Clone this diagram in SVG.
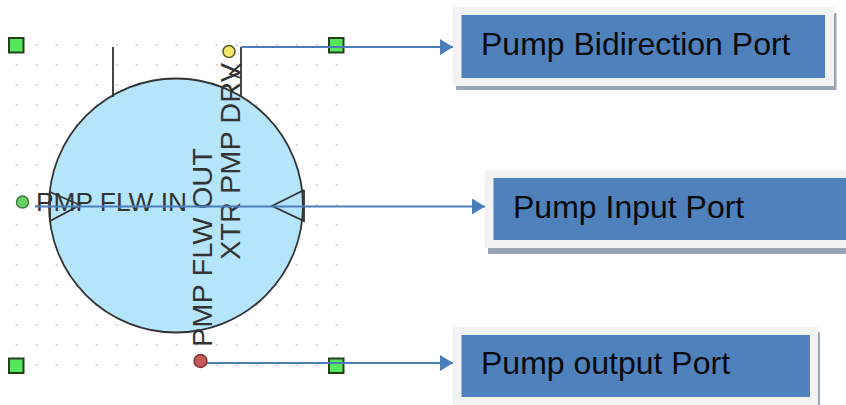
<svg xmlns="http://www.w3.org/2000/svg" width="846" height="405" viewBox="0 0 846 405">
  <style>
    .sq { fill: #55e85a; stroke: #24401f; stroke-width: 2; }
    .ln { fill: none; stroke: #333; stroke-width: 1.8; }
    .sym { font-family: "Liberation Sans", Arial, sans-serif; fill: #333; }
    .lbl { font-family: "Liberation Sans", Arial, sans-serif; font-size: 32px; fill: #0a0a0a; }
    .outer { fill: #f2f2f2; }
    .inner { fill: #4f81bd; }
    .shadow { fill: #98a4b4; }
    .conn { fill: none; stroke: #4a7ebb; stroke-width: 2; marker-end: url(#arrow); }
  </style>
  <defs>
    <pattern id="dots" x="6.7" y="35" width="20" height="20" patternUnits="userSpaceOnUse">
      <rect x="9" y="9" width="2" height="2" fill="#d4d4d4"/>
    </pattern>
    <marker id="arrow" markerUnits="userSpaceOnUse" markerWidth="13" markerHeight="16" refX="13" refY="8" orient="auto">
      <path d="M0,0 L13,8 L0,16 Z" fill="#4a7ebb"/>
    </marker>
  </defs>
  <rect width="846" height="405" fill="#fff"/>
  <g id="pump">
    <rect x="8" y="37" width="337" height="340" fill="url(#dots)"/>
    <circle cx="176" cy="205.5" r="127" fill="#b5e5fb" stroke="#333" stroke-width="1.8"/>
    <path class="ln" d="M113,47 V97 M241,47 V97"/>
    <path class="ln" d="M50,192 V221 L80,205 L50,192 M304,190 V221 L272,206 L304,190"/>
    <path class="ln" d="M241,64 L230,74 L241,78"/>
    <text class="sym" x="36" y="211" font-size="26" textLength="151" lengthAdjust="spacingAndGlyphs">PMP FLW IN</text>
    <text class="sym" transform="translate(212,347) rotate(-90)" font-size="28" textLength="199" lengthAdjust="spacingAndGlyphs">PMP FLW OUT</text>
    <text class="sym" transform="translate(240,260) rotate(-90)" font-size="28" textLength="197" lengthAdjust="spacingAndGlyphs">XTR PMP DRV</text>
  </g>
  <g id="handle-tl"><rect class="sq" x="9" y="38" width="14.5" height="14.5"/></g>
  <g id="handle-tr"><rect class="sq" x="329" y="38" width="14.5" height="14.5"/></g>
  <g id="handle-bl"><rect class="sq" x="9" y="358.5" width="14.5" height="14.5"/></g>
  <g id="handle-br"><rect class="sq" x="329" y="358.5" width="14.5" height="14.5"/></g>
  <g id="port-drv"><circle cx="229" cy="51.5" r="6" fill="#f3e66a" stroke="#5a5a2a" stroke-width="1.6"/></g>
  <g id="port-in"><circle cx="22.500" cy="202" r="6" fill="#66d060" stroke="#3a7a3a" stroke-width="1.4"/></g>
  <g id="port-out"><circle cx="200.500" cy="361" r="6.500" fill="#c85a5a" stroke="#7a3030" stroke-width="1.400"/></g>
  <g id="label-bidirection">
    <path class="shadow" d="M456,86 H834 V13 H836.500 V90 H456 Z"/>
    <rect class="outer" x="453" y="7" width="381" height="79"/>
    <rect class="inner" x="461.500" y="15" width="363.500" height="63"/>
    <text class="lbl" x="481" y="55">Pump Bidirection Port</text>
  </g>
  <g id="label-input">
    <rect class="shadow" x="488" y="248" width="358" height="6"/>
    <rect class="outer" x="485" y="170" width="361" height="78"/>
    <rect class="inner" x="493.500" y="178" width="352.500" height="62"/>
    <text class="lbl" x="513" y="218">Pump Input Port</text>
  </g>
  <g id="label-output">
    <rect class="shadow" x="818" y="332" width="2" height="73"/>
    <rect class="outer" x="453" y="327" width="365" height="78"/>
    <rect class="inner" x="461.500" y="335" width="348.500" height="62"/>
    <text class="lbl" x="481" y="374">Pump output Port</text>
  </g>
  <g id="connectors">
    <path class="conn" d="M241,47 H453"/>
    <path class="conn" d="M35,206.500 H485"/>
    <path class="conn" d="M207,363 H453"/>
  </g>
</svg>
